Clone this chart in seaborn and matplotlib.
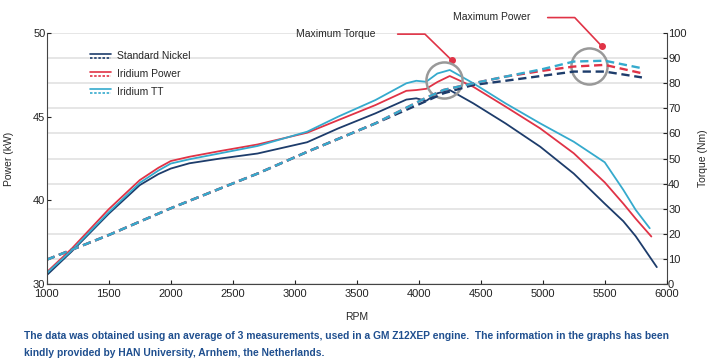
import pandas as pd
import numpy as np
import matplotlib
matplotlib.use("Agg")
import matplotlib.pyplot as plt
import seaborn as sns
from matplotlib.lines import Line2D
from matplotlib.legend_handler import HandlerBase

# Torque curves (solid, right axis, Nm)
rpm_torque = [1000, 1200, 1500, 1750, 1900, 2000, 2150, 2400, 2700, 3100, 3350, 3650,
              3900, 3980, 4060, 4150, 4250, 4440, 4700, 4980, 5250, 5500, 5650, 5750]
torque_nickel = [3.5, 12.9, 28, 39.4, 43.8, 46, 48.1, 50, 52, 56.5, 62, 68,
                 73.5, 74, 73, 76, 77.3, 72, 64, 54.7, 44, 32, 25, 19]
torque_power = [4.7, 14, 29.8, 41.4, 46.3, 49, 50.7, 53, 55.6, 60.3, 65.3, 71.3,
                77, 77.3, 77.8, 80.5, 82.9, 78.6, 70.7, 62, 52.1, 40.5, 32, 26]
torque_tt = [4.3, 13.3, 28.6, 40.3, 45.2, 48, 49.7, 52.1, 55, 60.7, 66.7, 73.3,
             80, 81, 80.6, 83.9, 85.3, 80, 72, 64, 56.7, 48.5, 37.5, 29.5]
end_rpm = [5920, 5876, 5863]
end_torque = [6.7, 18.9, 22.2]

# Power curves (dashed, left axis, kW)
rpm_power = [1000, 1500, 2000, 2700, 3100, 3650, 4050, 4200, 4440, 4700, 5000, 5250, 5500, 5800]
power_nickel = [32.9, 35.85, 39.05, 41.6, 42.9, 44.6, 45.9, 46.4, 46.9, 47.15, 47.45, 47.7, 47.7, 47.35]
power_power = [32.9, 35.85, 39.05, 41.6, 42.9, 44.6, 46.1, 46.6, 47.0, 47.4, 47.75, 48.0, 48.1, 47.6]
power_tt = [32.9, 35.85, 39.05, 41.6, 42.9, 44.6, 46.1, 46.6, 47.0, 47.4, 47.85, 48.3, 48.35, 47.9]

plugs = ["Standard Nickel", "Iridium Power", "Iridium TT"]
colors = ["#1d3c6b", "#e03346", "#35aacd"]

torque_rows = []
for name, vals, er, et in zip(plugs, [torque_nickel, torque_power, torque_tt], end_rpm, end_torque):
    for r, v in zip(rpm_torque + [er], vals + [et]):
        torque_rows.append({"rpm": r, "value": v, "plug": name})
df_torque = pd.DataFrame(torque_rows)

power_rows = []
for name, vals in zip(plugs, [power_nickel, power_power, power_tt]):
    for r, v in zip(rpm_power, vals):
        power_rows.append({"rpm": r, "value": v, "plug": name})
df_power = pd.DataFrame(power_rows)

palette = dict(zip(plugs, colors))

sns.set_style("white")
plt.rcParams["font.family"] = ["Liberation Sans", "DejaVu Sans"]

fig = plt.figure(figsize=(7.2, 3.64), dpi=100)
ax = fig.add_axes([0.065, 0.22, 0.861, 0.689])   # power (left)
ax2 = ax.twinx()                                   # torque (right)

# odd piecewise power scale as in the original
kw_ticks = [30, 40, 45, 50]
pos = [0, 1, 2, 3]
fwd = lambda y: np.interp(y, kw_ticks, pos)
inv = lambda y: np.interp(y, pos, kw_ticks)
ax.set_yscale("function", functions=(fwd, inv))

ax2.set_zorder(ax.get_zorder() - 1)
ax.patch.set_visible(False)

sns.lineplot(data=df_torque, x="rpm", y="value", hue="plug", palette=palette,
             ax=ax2, lw=1.3, legend=False, sort=True)
sns.lineplot(data=df_power, x="rpm", y="value", hue="plug", palette=palette,
             ax=ax, lw=1.7, linestyle=(0, (3.5, 2)), legend=False, sort=True)

ax.set_xlim(1000, 6000)
ax.set_ylim(30, 50)
ax2.set_ylim(0, 100)
ax.set_yticks(kw_ticks)
ax2.set_yticks(range(0, 101, 10))
ax.set_xticks(range(1000, 6001, 500))

ax2.yaxis.grid(True, color="#e2e2e2", lw=1.2)
ax2.xaxis.grid(False)
ax.grid(False)

for a in (ax, ax2):
    for s in a.spines.values():
        s.set_visible(False)
    a.tick_params(labelsize=8, colors="#222222", length=3, width=0.8, pad=1)
ax.spines["left"].set_visible(True)
ax.spines["bottom"].set_visible(True)
ax2.spines["right"].set_visible(True)
for sp in [ax.spines["left"], ax.spines["bottom"], ax2.spines["right"]]:
    sp.set_color("#444444")
    sp.set_linewidth(0.8)
ax.tick_params(axis="x", bottom=True, direction="in", length=3, pad=4)
ax.tick_params(axis="y", left=True, direction="in", length=3)
ax2.tick_params(axis="y", right=True, direction="in", length=3)

ax.set_xlabel("RPM", fontsize=7.5, labelpad=9)
ax.set_ylabel("Power (kW)", fontsize=7.5, labelpad=14)
ax2.set_ylabel("Torque (Nm)", fontsize=7.5, labelpad=8)

# highlight circles
ax2.plot([4200], [81.3], "o", ms=26, mfc="none", mec="#999999", mew=1.8, zorder=5)
ax2.plot([5370], [86.9], "o", ms=26, mfc="none", mec="#999999", mew=1.8, zorder=5)

# callouts
red = "#e03346"
ax2.plot([3830, 4050, 4266], [99.6, 99.6, 89.2], color=red, lw=1.2, clip_on=False)
ax2.plot([4266], [89.2], "o", color=red, ms=4, clip_on=False)
ax2.text(3330, 99.8, "Maximum Torque", fontsize=7.5, ha="center", va="center")
ax2.plot([5040, 5258, 5476], [106.2, 106.2, 94.8], color=red, lw=1.2, clip_on=False)
ax2.plot([5476], [94.8], "o", color=red, ms=4, clip_on=False)
ax2.text(4590, 106.6, "Maximum Power", fontsize=7.5, ha="center", va="center")


# legend with solid over dotted line
class StackHandler(HandlerBase):
    def create_artists(self, legend, orig, xd, yd, w, h, fs, trans):
        c = orig.get_color()
        l1 = Line2D([-xd, -xd + w], [-yd + h * 0.75] * 2, color=c, lw=1.2)
        l2 = Line2D([-xd, -xd + w], [-yd + h * 0.2] * 2, color=c, lw=1.2,
                    linestyle=(0, (1.5, 1)))
        for l in (l1, l2):
            l.set_transform(trans)
        return [l1, l2]


handles = [Line2D([], [], color=c) for c in colors]
ax.legend(handles, plugs, handler_map={Line2D: StackHandler()},
          loc="upper left", bbox_to_anchor=(0.055, 0.965), frameon=False,
          fontsize=7.5, handlelength=2.0, handletextpad=0.6, labelspacing=0.75)

foot = dict(fontsize=7.4, fontweight="bold", color="#1f4f8f", va="center")
fig.text(0.033, 0.077, "The data was obtained using an average of 3 measurements, used in a GM Z12XEP engine.  "
         "The information in the graphs has been", **foot)
fig.text(0.033, 0.031, "kindly provided by HAN University, Arnhem, the Netherlands.", **foot)

fig.savefig("out.png", dpi=100)
